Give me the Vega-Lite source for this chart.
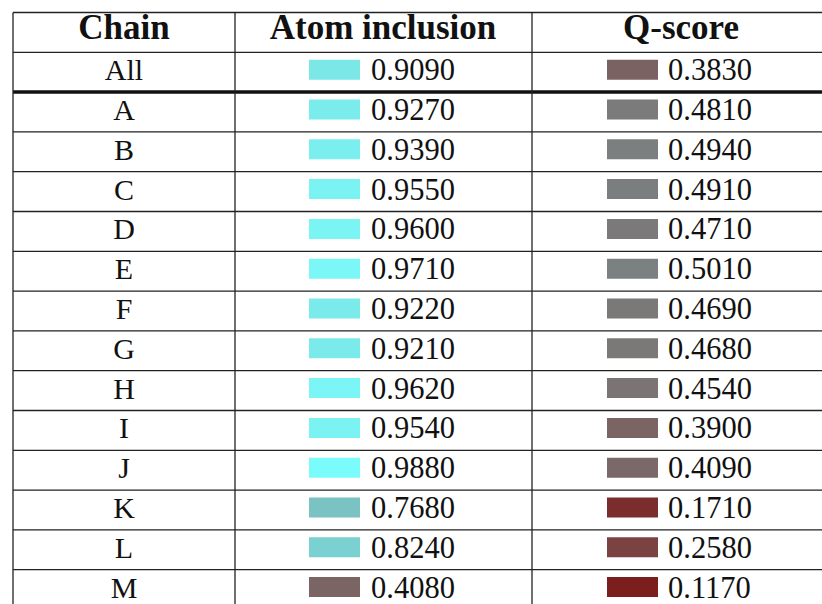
{
  "$schema": "https://vega.github.io/schema/vega-lite/v6.json",
  "width": 809,
  "height": 597,
  "padding": {"left": 13, "top": 12.5, "right": 0, "bottom": 0},
  "autosize": {"type": "none"},
  "background": "white",
  "config": {"view": {"stroke": null}},
  "resolve": {"scale": {"color": "independent"}},
  "data": {
    "values": [
      {"chain": "All", "atom": 0.909, "q": 0.383},
      {"chain": "A", "atom": 0.927, "q": 0.481},
      {"chain": "B", "atom": 0.939, "q": 0.494},
      {"chain": "C", "atom": 0.955, "q": 0.491},
      {"chain": "D", "atom": 0.960, "q": 0.471},
      {"chain": "E", "atom": 0.971, "q": 0.501},
      {"chain": "F", "atom": 0.922, "q": 0.469},
      {"chain": "G", "atom": 0.921, "q": 0.468},
      {"chain": "H", "atom": 0.962, "q": 0.454},
      {"chain": "I", "atom": 0.954, "q": 0.390},
      {"chain": "J", "atom": 0.988, "q": 0.409},
      {"chain": "K", "atom": 0.768, "q": 0.171},
      {"chain": "L", "atom": 0.824, "q": 0.258},
      {"chain": "M", "atom": 0.408, "q": 0.117}
    ]
  },
  "layer": [
    {
      "mark": {"type": "rect", "height": 20, "yOffset": -2.5},
      "encoding": {
        "x": {"datum": 296, "type": "quantitative", "scale": {"domain": [0, 809], "nice": false, "zero": false}, "axis": null},
        "x2": {"datum": 347},
        "y": {"field": "chain", "type": "nominal", "sort": null, "axis": null,
              "scale": {"domain": ["Chain","All","A","B","C","D","E","F","G","H","I","J","K","L","M"], "paddingInner": 0, "paddingOuter": 0}},
        "color": {"field": "atom", "type": "quantitative", "legend": null,
                  "scale": {"domain": [0, 0.5, 1], "range": ["#7b0000", "#7b7b7b", "#7bffff"], "interpolate": "rgb"}}
      }
    },
    {
      "mark": {"type": "rect", "height": 20, "yOffset": -2.5},
      "encoding": {
        "x": {"datum": 594, "type": "quantitative"},
        "x2": {"datum": 645},
        "y": {"field": "chain", "type": "nominal", "sort": null},
        "color": {"field": "q", "type": "quantitative", "legend": null,
                  "scale": {"domain": [0, 0.48, 1], "range": ["#7b0000", "#7b7b7b", "#7bffff"], "interpolate": "rgb"}}
      }
    },
    {
      "mark": {"type": "text", "font": "Liberation Serif", "fontSize": 30, "align": "center", "baseline": "alphabetic", "dy": 8, "color": "#111"},
      "encoding": {
        "x": {"datum": 111, "type": "quantitative"},
        "y": {"field": "chain", "type": "nominal", "sort": null},
        "text": {"field": "chain"}
      }
    },
    {
      "mark": {"type": "text", "font": "Liberation Serif", "fontSize": 30.5, "align": "left", "baseline": "alphabetic", "dy": 8, "color": "#111"},
      "encoding": {
        "x": {"datum": 358, "type": "quantitative"},
        "y": {"field": "chain", "type": "nominal", "sort": null},
        "text": {"field": "atom", "type": "quantitative", "format": ".4f"}
      }
    },
    {
      "mark": {"type": "text", "font": "Liberation Serif", "fontSize": 30.5, "align": "left", "baseline": "alphabetic", "dy": 8, "color": "#111"},
      "encoding": {
        "x": {"datum": 655, "type": "quantitative"},
        "y": {"field": "chain", "type": "nominal", "sort": null},
        "text": {"field": "q", "type": "quantitative", "format": ".4f"}
      }
    },
    {
      "data": {"values": [{"h": "Chain"}]},
      "mark": {"type": "text", "font": "Liberation Serif", "fontWeight": "bold", "fontSize": 35, "align": "center", "baseline": "alphabetic", "dy": 6.5, "color": "#111"},
      "encoding": {
        "x": {"datum": 111, "type": "quantitative"},
        "y": {"field": "h", "type": "nominal"},
        "text": {"field": "h"}
      }
    },
    {
      "data": {"values": [{"h": "Atom inclusion"}]},
      "mark": {"type": "text", "font": "Liberation Serif", "fontWeight": "bold", "fontSize": 35, "align": "center", "baseline": "alphabetic", "dy": 6.5, "color": "#111"},
      "encoding": {
        "x": {"datum": 370, "type": "quantitative"},
        "y": {"datum": "Chain", "type": "nominal"},
        "text": {"field": "h"}
      }
    },
    {
      "data": {"values": [{"h": "Q-score"}]},
      "mark": {"type": "text", "font": "Liberation Serif", "fontWeight": "bold", "fontSize": 35, "align": "center", "baseline": "alphabetic", "dy": 6.5, "color": "#111"},
      "encoding": {
        "x": {"datum": 668, "type": "quantitative"},
        "y": {"datum": "Chain", "type": "nominal"},
        "text": {"field": "h"}
      }
    },
    {
      "mark": {"type": "rule", "color": "#222", "strokeWidth": 1.3},
      "encoding": {
        "y": {"field": "chain", "type": "nominal", "sort": null, "bandPosition": 0}
      }
    },
    {
      "data": {"values": [{"h": "Chain"}]},
      "mark": {"type": "rule", "color": "#222", "strokeWidth": 1.3},
      "encoding": {
        "y": {"field": "h", "type": "nominal", "bandPosition": 0}
      }
    },
    {
      "data": {"values": [{"h": "A"}]},
      "mark": {"type": "rule", "color": "#111", "strokeWidth": 3.5},
      "encoding": {
        "y": {"field": "h", "type": "nominal", "bandPosition": 0}
      }
    },
    {
      "data": {"values": [{"v": 0}, {"v": 222}, {"v": 519}]},
      "mark": {"type": "rule", "color": "#222", "strokeWidth": 1.3},
      "encoding": {
        "x": {"field": "v", "type": "quantitative"}
      }
    }
  ]
}
